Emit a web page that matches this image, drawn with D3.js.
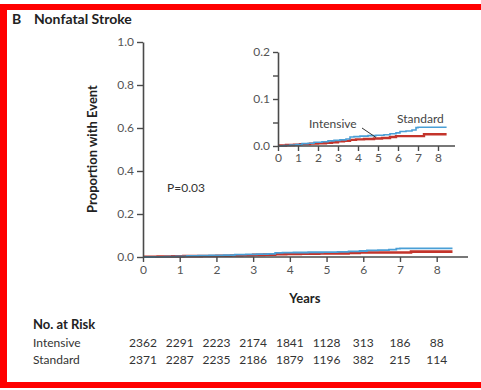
<!DOCTYPE html>
<html>
<head>
<meta charset="utf-8">
<script src="https://cdn.jsdelivr.net/npm/d3@7"></script>
<style>
  html, body { margin: 0; padding: 0; background: #fff; }
  svg { display: block; font-family: Lato, "Open Sans", sans-serif; }
</style>
</head>
<body>
<svg id="chart" width="481" height="390"></svg>
<script>
// Kaplan-Meier step points: [years, cumulative proportion]
const standardSteps = [
  [0, 0], [0.3, 0.001], [0.6, 0.002], [0.9, 0.003], [1.2, 0.005], [1.5, 0.006],
  [1.8, 0.008], [2.2, 0.009], [2.5, 0.011], [2.8, 0.012], [3.1, 0.013], [3.4, 0.015],
  [3.6, 0.019], [3.8, 0.020], [4.1, 0.021], [4.5, 0.022], [4.9, 0.023], [5.3, 0.024],
  [5.6, 0.026], [5.9, 0.028], [6.1, 0.031], [6.4, 0.032], [6.7, 0.034], [6.9, 0.039],
  [7.0, 0.040], [8.43, 0.040]
];
const intensiveSteps = [
  [0, 0.001], [0.4, 0.002], [0.8, 0.003], [1.1, 0.004], [1.6, 0.005], [2.0, 0.006],
  [2.4, 0.007], [2.7, 0.008], [3.0, 0.010], [3.3, 0.011], [3.6, 0.013], [3.9, 0.014],
  [4.3, 0.015], [4.8, 0.016], [5.2, 0.017], [5.6, 0.019], [5.9, 0.021], [7.3, 0.025],
  [8.43, 0.025]
];
const yearTicks = [0, 1, 2, 3, 4, 5, 6, 7, 8];
const mainYTicks = [0, 0.2, 0.4, 0.6, 0.8, 1.0];
const insetYTicks = [0, 0.05, 0.1, 0.15, 0.2];
const insetYLabels = [0, 0.1, 0.2];
const riskGroups = ["Intensive", "Standard"];
const riskIntensive = [2362, 2291, 2223, 2174, 1841, 1128, 313, 186, 88];
const riskStandard = [2371, 2287, 2235, 2186, 1879, 1196, 382, 215, 114];

const colors = { standard: "#4a9fd6", intensive: "#c3342b" };
const axisColor = "#4a4a4a";
const tickTextColor = "#555";

const svg = d3.select("#chart");

// red frame
const frame = svg.append("g").attr("fill", "#ff0000");
frame.append("rect").attr("x", 0).attr("y", 4).attr("width", 481).attr("height", 6);
frame.append("rect").attr("x", 0).attr("y", 4).attr("width", 7).attr("height", 384);
frame.append("rect").attr("x", 0).attr("y", 382).attr("width", 481).attr("height", 6);

// panel title
svg.append("text").attr("x", 12).attr("y", 24).attr("font-size", 14).attr("font-weight", "bold")
  .attr("fill", "#222").text("B");
svg.append("text").attr("x", 34).attr("y", 24).attr("font-size", 14).attr("font-weight", "bold")
  .attr("fill", "#222").text("Nonfatal Stroke");

function styleAxis(g, fontSize) {
  g.select(".domain").attr("stroke", axisColor).attr("stroke-width", 1.6);
  g.selectAll(".tick line").attr("stroke", axisColor).attr("stroke-width", 1.4);
  g.selectAll(".tick text").attr("fill", tickTextColor).attr("font-size", fontSize)
    .attr("font-family", "Lato, 'Open Sans', sans-serif");
}

const stepLine = (xs, ys) => d3.line().x(d => xs(d[0])).y(d => ys(d[1])).curve(d3.curveStepAfter);

function drawCurves(g, xs, ys, wBlue, wRed) {
  g.append("path").datum(intensiveSteps).attr("fill", "none")
    .attr("stroke", colors.intensive).attr("stroke-width", wRed).attr("d", stepLine(xs, ys));
  g.append("path").datum(standardSteps).attr("fill", "none")
    .attr("stroke", colors.standard).attr("stroke-width", wBlue).attr("d", stepLine(xs, ys));
}

// ---- main plot ----
const x = d3.scaleLinear().domain([0, 8]).range([143, 436.7]);
const y = d3.scaleLinear().domain([0, 1]).range([257, 42]);

const main = svg.append("g");
drawCurves(main, x, y, 1.8, 2.6);

const xAxis = main.append("g").attr("transform", `translate(0,${y(0)})`)
  .call(d3.axisBottom(x).tickValues(yearTicks).tickFormat(d3.format("d")).tickSize(5).tickSizeOuter(0).tickPadding(3));
xAxis.select(".domain").attr("d", `M${x(0)},0H468`);
styleAxis(xAxis, 12);

const yAxis = main.append("g").attr("transform", `translate(${x(0)},0)`)
  .call(d3.axisLeft(y).tickValues(mainYTicks).tickFormat(d3.format(".1f")).tickSize(6).tickSizeOuter(0).tickPadding(3));
styleAxis(yAxis, 12);

svg.append("text").attr("transform", "translate(97,149) rotate(-90)")
  .attr("text-anchor", "middle").attr("font-size", 13).attr("font-weight", "bold")
  .attr("fill", "#222").text("Proportion with Event");
svg.append("text").attr("x", (x(0) + x(8)) / 2 + 15).attr("y", 303)
  .attr("text-anchor", "middle").attr("font-size", 13).attr("font-weight", "bold")
  .attr("fill", "#222").text("Years");
svg.append("text").attr("x", 167).attr("y", 192).attr("font-size", 12)
  .attr("fill", "#333").text("P=0.03");

// ---- inset ----
const xi = d3.scaleLinear().domain([0, 8]).range([278, 438]);
const yi = d3.scaleLinear().domain([0, 0.2]).range([146, 52]);
const inset = svg.append("g");
drawCurves(inset, xi, yi, 1.6, 2.4);

const xiAxis = inset.append("g").attr("transform", `translate(0,${yi(0)})`)
  .call(d3.axisBottom(xi).tickValues(yearTicks).tickFormat(d3.format("d")).tickSize(5).tickSizeOuter(0).tickPadding(2));
xiAxis.select(".domain").attr("d", `M${xi(0)},0H455`);
styleAxis(xiAxis, 12);

const yiAxis = inset.append("g").attr("transform", `translate(${xi(0)},0)`)
  .call(d3.axisLeft(yi).tickValues(insetYTicks)
    .tickFormat(d => insetYLabels.some(v => Math.abs(v - d) < 1e-9) ? d3.format(".1f")(d) : "")
    .tickSize(5).tickSizeOuter(0).tickPadding(3));
styleAxis(yiAxis, 12);

inset.append("text").attr("x", 309).attr("y", 128).attr("font-size", 12)
  .attr("fill", "#444").text("Intensive");
inset.append("line").attr("x1", 362).attr("y1", 128).attr("x2", xi(4.9)).attr("y2", yi(0.016) - 1)
  .attr("stroke", "#333").attr("stroke-width", 1);
inset.append("text").attr("x", 397).attr("y", 123).attr("font-size", 12)
  .attr("fill", "#444").text("Standard");

// ---- number at risk ----
const risk = svg.append("g").attr("font-size", 12).attr("fill", "#333");
risk.append("text").attr("x", 33).attr("y", 329).attr("font-weight", "bold")
  .attr("font-size", 13).attr("fill", "#222").text("No. at Risk");
[riskIntensive, riskStandard].forEach((row, i) => {
  const yy = 347 + i * 17;
  risk.append("text").attr("x", 33).attr("y", yy).text(riskGroups[i]);
  risk.selectAll(null).data(row).enter().append("text")
    .attr("x", (d, j) => x(yearTicks[j])).attr("y", yy)
    .attr("text-anchor", "middle").text(d => d);
});
</script>
</body>
</html>
